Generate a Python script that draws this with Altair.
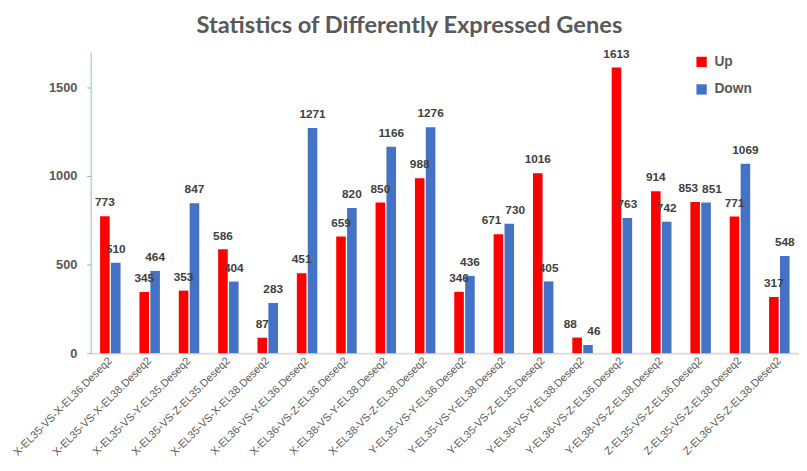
import altair as alt
import pandas as pd

categories = [
    "X-EL35-VS-X-EL36.Deseq2", "X-EL35-VS-X-EL38.Deseq2", "X-EL35-VS-Y-EL35.Deseq2",
    "X-EL35-VS-Z-EL35.Deseq2", "X-EL35-VS-X-EL38.Deseq2 ", "X-EL36-VS-Y-EL36.Deseq2",
    "X-EL36-VS-Z-EL36.Deseq2", "X-EL38-VS-Y-EL38.Deseq2", "X-EL38-VS-Z-EL38.Deseq2",
    "Y-EL35-VS-Y-EL36.Deseq2", "Y-EL35-VS-Y-EL38.Deseq2", "Y-EL35-VS-Z-EL35.Deseq2",
    "Y-EL36-VS-Y-EL38.Deseq2", "Y-EL36-VS-Z-EL36.Deseq2", "Y-EL38-VS-Z-EL38.Deseq2",
    "Z-EL35-VS-Z-EL36.Deseq2", "Z-EL35-VS-Z-EL38.Deseq2", "Z-EL36-VS-Z-EL38.Deseq2",
]
up = [773, 345, 353, 586, 87, 451, 659, 850, 988, 346, 671, 1016, 88, 1613, 914, 853, 771, 317]
down = [510, 464, 847, 404, 283, 1271, 820, 1166, 1276, 436, 730, 405, 46, 763, 742, 851, 1069, 548]
series = ["Up", "Down"]
colors = ["#FF0000", "#4472C4"]
y_ticks = [0, 500, 1000, 1500]

rows = []
for c, u, d in zip(categories, up, down):
    rows.append({"cat": c, "type": "Up", "value": u})
    rows.append({"cat": c, "type": "Down", "value": d})
df = pd.DataFrame(rows)

x = alt.X(
    "cat:N", sort=categories, title=None,
    scale=alt.Scale(paddingInner=0.48, paddingOuter=0.24),
    axis=alt.Axis(labelAngle=-45, labelAlign="right", labelBaseline="middle",
                  labelFont="Liberation Sans", labelFontSize=11, labelColor="#595959",
                  labelPadding=6, ticks=False, domainColor="#D9D9D9", domainWidth=2,
                  labelOverlap=False),
)
xo = alt.XOffset("type:N", sort=series, scale=alt.Scale(domain=series, paddingInner=0.12))
y = alt.Y(
    "value:Q", title=None,
    scale=alt.Scale(domain=[0, 1700], nice=False),
    axis=alt.Axis(values=y_ticks, format="d", grid=False, labelFont="Liberation Sans",
                  labelFontSize=13, labelFontWeight="bold", labelColor="#595959",
                  domainColor="#8EB4E3", tickColor="#8EB4E3", tickSize=4, labelPadding=10),
)
color = alt.Color(
    "type:N", sort=series, scale=alt.Scale(domain=series, range=colors),
    legend=alt.Legend(title=None, orient="none", legendX=614, legendY=3, symbolType="square",
                      symbolSize=110, symbolStrokeWidth=0, labelFont="Liberation Sans",
                      labelFontSize=14, labelFontWeight="bold", labelColor="#595959",
                      rowPadding=14, labelOffset=6),
)

base = alt.Chart(df)
bars = base.mark_bar().encode(x=x, xOffset=xo, y=y, color=color)

# labels of near-equal pairs are pushed apart (as the spreadsheet does), others stay centred
labels = base.transform_joinaggregate(
    vmax="max(value)", vmin="min(value)", groupby=["cat"]
).transform_calculate(
    close="datum.vmax - datum.vmin < 60 ? 1 : 0"
).mark_text(
    baseline="bottom", dy=-7, font="Liberation Sans", fontSize=12, fontWeight="bold",
    color="#404040",
    dx=alt.expr("datum.close ? (datum.type == 'Up' ? -7 : 6) : 0"),
).encode(x=x, xOffset=xo, y=y, text="value:Q")

chart = alt.layer(bars, labels).properties(
    width=720, height=306,
    padding={"left": 84, "top": 41, "right": 0, "bottom": 116},
    autosize="none",
    title=alt.TitleParams("Statistics of Differently Expressed Genes", font="Lato",
                          fontSize=24, fontWeight="bold", color="#595959",
                          anchor="middle", dx=-36, offset=10),
).configure_view(stroke=None)

chart.save("out.html", embed_options={"renderer": "svg", "actions": False})
